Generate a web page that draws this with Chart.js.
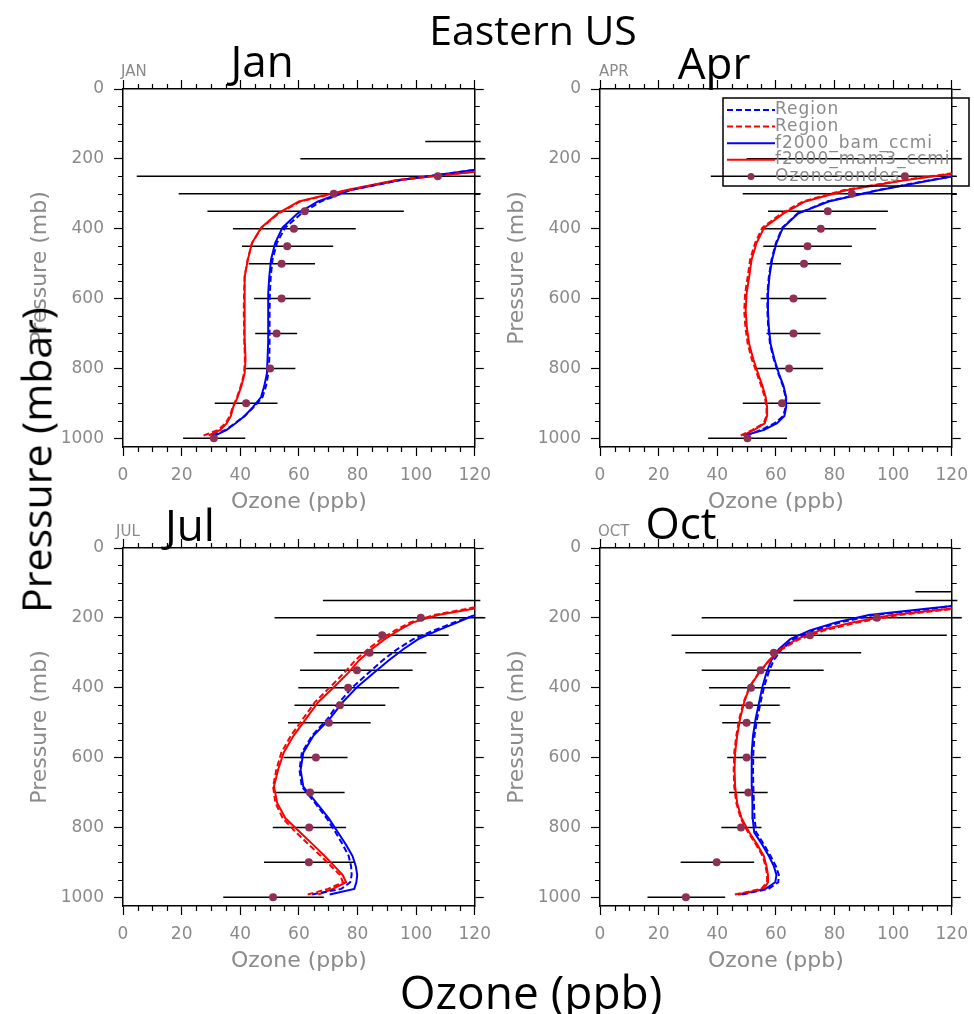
<!DOCTYPE html>
<html>
<head>
<meta charset="utf-8">
<title>Eastern US ozone profiles</title>
<script src="https://cdn.jsdelivr.net/npm/chart.js@4.4.1/dist/chart.umd.min.js"></script>
<style>
  html, body { margin: 0; padding: 0; background: #fff; }
  body { position: relative; width: 974px; height: 1014px; overflow: hidden; }
  canvas { position: absolute; }
  .big { position: absolute; font-family: 'Open Sans', sans-serif; color: #000; line-height: 1;
         white-space: nowrap; transform: translate(-50%, -50%); z-index: 2; }
  .tag { position: absolute; font-family: 'DejaVu Sans', sans-serif; font-size: 15px; color: #8a8a8a;
         line-height: 1; z-index: 2; }
</style>
</head>
<body>
<canvas id="jan" width="500" height="493" style="left:0;top:29px"></canvas>
<canvas id="apr" width="500" height="493" style="left:477px;top:29px"></canvas>
<canvas id="jul" width="500" height="493" style="left:0;top:488px"></canvas>
<canvas id="oct" width="500" height="493" style="left:477px;top:488px"></canvas>

<div class="tag" style="left:121px;top:64px">JAN</div>
<div class="tag" style="left:599px;top:64px">APR</div>
<div class="tag" style="left:116px;top:524px">JUL</div>
<div class="tag" style="left:598px;top:524px">OCT</div>

<div class="big" style="left:533px;top:29px;font-size:41px">Eastern US</div>
<div class="big" style="left:262px;top:60px;font-size:44px">Jan</div>
<div class="big" style="left:714px;top:62px;font-size:44px">Apr</div>
<div class="big" style="left:190px;top:524px;font-size:44px">Jul</div>
<div class="big" style="left:681px;top:522px;font-size:44px">Oct</div>
<div class="big" style="left:531px;top:991px;font-size:46px">Ozone (ppb)</div>
<div class="big" style="left:36px;top:460px;font-size:41px;transform:translate(-50%,-50%) rotate(-90deg)">Pressure (mbar)</div>

<script>
// model levels (mb), shared by every model profile
const LEVELS = [992, 976, 957, 936, 911, 882, 850, 814, 774, 730, 683, 635, 586, 537, 489, 441, 397, 357, 322, 290, 261, 236, 213, 192, 173, 155];

// ---- January
const JAN_REGION_BAM  = [30.5, 35.0, 38.2, 41.5, 44.6, 47.6, 48.8, 49.6, 49.9, 50.0, 50.0, 50.0, 50.1, 50.4, 51.0, 52.5, 55.3, 60.8, 67.5, 77.5, 94.5, 116, 135, 150, 160, 170];
const JAN_REGION_MAM3 = [27.5, 32.5, 35.0, 36.5, 37.4, 38.9, 40.2, 41.3, 41.6, 41.4, 41.3, 41.2, 41.3, 41.5, 42.5, 44.0, 47.3, 53.0, 60.5, 76.5, 93.5, 121, 140, 155, 165, 175];
const JAN_BAM         = [31.5, 35.4, 38.4, 41.5, 44.3, 47.1, 48.2, 49.1, 49.3, 49.5, 49.5, 49.5, 49.6, 49.9, 50.5, 51.9, 54.4, 59.4, 66.5, 77.0, 94.0, 116, 135, 150, 160, 170];
const JAN_MAM3        = [29.2, 33.2, 35.4, 36.8, 37.6, 39.1, 40.4, 41.5, 41.8, 41.6, 41.5, 41.4, 41.5, 41.6, 42.6, 44.0, 47.1, 52.7, 60.0, 76.0, 93.0, 121, 140, 155, 165, 175];
const JAN_SONDE_P    = [1000, 900, 800, 700, 600, 500, 450, 400, 350, 300, 250, 200, 150];
const JAN_SONDE_MEAN = [31.0, 42.0, 50.2, 52.4, 54.1, 54.1, 56.0, 58.3, 62.0, 71.9, 107.4, null, null];
const JAN_SONDE_LO   = [20.5, 31.3, 42.0, 45.1, 44.7, 42.9, 40.6, 37.5, 28.8, 19.0, 4.7, 60.5, 103.1];
const JAN_SONDE_HI   = [41.7, 52.7, 58.8, 59.4, 64.0, 65.5, 71.7, 79.4, 95.8, 122, 122, 123.6, 122];

// ---- April
const APR_REGION_BAM  = [49.8, 55.0, 59.6, 62.5, 63.3, 63.3, 62.4, 60.8, 59.3, 58.0, 57.4, 57.1, 57.1, 57.6, 58.5, 60.0, 62.2, 67.3, 77.5, 94.5, 112.5, 130, 145, 155, 165, 175];
const APR_REGION_MAM3 = [48.0, 52.0, 55.8, 56.8, 56.8, 56.2, 55.0, 53.5, 51.8, 50.4, 49.6, 49.2, 49.5, 50.4, 51.2, 52.9, 55.4, 61.8, 69.2, 83.0, 103, 125, 140, 150, 160, 170];
const APR_BAM         = [49.2, 56.0, 60.4, 62.9, 63.5, 63.5, 62.6, 61.0, 59.5, 58.2, 57.6, 57.3, 57.3, 57.8, 58.7, 60.2, 62.4, 67.5, 78.0, 95.0, 113, 130, 145, 155, 165, 175];
const APR_MAM3        = [48.7, 52.6, 56.2, 57.0, 57.0, 56.5, 55.4, 53.9, 52.3, 50.9, 50.1, 49.7, 50.0, 50.9, 51.7, 53.4, 56.0, 62.5, 70.0, 84.0, 104, 126, 140, 150, 160, 170];
const APR_SONDE_P    = [1000, 900, 800, 700, 600, 500, 450, 400, 350, 300, 250, 200];
const APR_SONDE_MEAN = [50.3, 62.1, 64.5, 66.0, 66.0, 69.6, 70.8, 75.3, 77.7, 85.9, 104.0, null];
const APR_SONDE_LO   = [36.9, 48.7, 53.4, 56.8, 54.8, 56.8, 55.7, 55.9, 57.3, 48.7, 37.8, 50.0];
const APR_SONDE_HI   = [63.8, 75.2, 76.1, 75.2, 77.2, 82.2, 85.9, 94.2, 98.2, 121.7, 121.7, 123.4];

// ---- July
const JUL_REGION_BAM  = [64.5, 74.5, 77.5, 78.0, 77.8, 77.0, 75.0, 72.5, 69.5, 65.5, 61.0, 60.2, 61.0, 64.5, 69.8, 73.8, 78.5, 83.8, 88.5, 93.5, 99.0, 106, 113, 120, 126, 132];
const JUL_REGION_MAM3 = [63.0, 70.0, 75.0, 74.0, 71.0, 67.5, 63.5, 59.0, 54.5, 52.0, 51.2, 52.3, 54.0, 57.3, 61.4, 65.5, 70.8, 75.5, 79.2, 83.5, 88.0, 92.8, 98.0, 106, 118, 130];
const JUL_BAM         = [70.5, 78.9, 79.6, 79.9, 79.4, 78.3, 76.1, 73.3, 70.2, 66.0, 61.5, 60.6, 61.5, 65.0, 70.5, 75.0, 80.0, 85.6, 90.6, 95.6, 100.7, 107.4, 114.1, 120, 126, 132];
const JUL_MAM3        = [66.6, 71.6, 76.1, 74.9, 72.1, 68.8, 64.9, 60.4, 55.4, 52.6, 51.5, 52.9, 54.8, 58.2, 62.4, 66.6, 72.1, 76.9, 80.5, 84.8, 89.3, 94.0, 99.0, 107.4, 120, 132];
const JUL_SONDE_P    = [1000, 900, 800, 700, 600, 500, 450, 400, 350, 300, 250, 200, 150];
const JUL_SONDE_MEAN = [51.2, 63.4, 63.5, 63.8, 65.8, 70.2, 74.0, 76.8, 79.8, 84.1, 88.4, 101.6, null];
const JUL_SONDE_LO   = [34.2, 48.1, 51.1, 52.2, 54.8, 56.3, 58.5, 59.8, 60.4, 65.1, 66.0, 51.7, 68.2];
const JUL_SONDE_HI   = [68.5, 79.2, 76.1, 75.6, 76.6, 84.5, 89.5, 94.2, 98.8, 103.5, 111.1, 123.6, 121.9];

// ---- October
const OCT_REGION_BAM  = [48.5, 57.5, 60.8, 61.0, 60.0, 58.2, 56.0, 53.3, 52.7, 52.5, 52.3, 52.2, 52.3, 52.7, 53.6, 54.8, 56.0, 57.5, 59.2, 62.0, 66.0, 73.0, 82.0, 93.5, 114, 128];
const OCT_REGION_MAM3 = [46.0, 55.0, 57.0, 57.0, 56.5, 55.5, 53.3, 50.5, 48.0, 46.5, 45.8, 45.6, 45.8, 46.5, 47.5, 49.0, 51.0, 54.2, 57.8, 62.0, 68.0, 76.5, 88.0, 102, 122, 140];
const OCT_BAM         = [47.5, 56.5, 59.8, 60.2, 59.3, 57.6, 55.4, 52.6, 52.1, 52.0, 51.8, 51.7, 51.8, 52.2, 53.1, 54.3, 55.4, 56.8, 58.4, 61.0, 64.9, 71.6, 80.5, 91.7, 112, 132];
const OCT_MAM3        = [47.0, 55.9, 57.3, 57.3, 56.8, 55.9, 53.7, 50.9, 48.3, 46.8, 46.1, 45.9, 46.1, 46.8, 47.8, 49.2, 51.1, 54.3, 57.6, 61.5, 67.1, 75.0, 86.0, 99.6, 120, 140];
const OCT_SONDE_P    = [1000, 900, 800, 700, 600, 500, 450, 400, 350, 300, 250, 200, 150, 125];
const OCT_SONDE_MEAN = [29.3, 39.8, 48.1, 50.6, 50.0, 50.0, 50.9, 51.5, 54.8, 59.3, 71.6, 94.5, null, null];
const OCT_SONDE_LO   = [16.2, 27.5, 41.4, 44.0, 43.4, 41.7, 40.8, 37.2, 34.7, 29.1, 24.4, 34.7, 66.0, 107.6];
const OCT_SONDE_HI   = [42.7, 52.6, 55.1, 57.2, 56.7, 58.2, 61.3, 64.9, 76.3, 89.1, 118.3, 123.4, 121.9, 120.0];

// axes
const X_MIN = 0, X_MAX = 120, X_STEP = 20, X_MINOR = 5;
const P_MIN = 0, P_MAX = 1025, P_MINOR = 50;
const P_TICKS = [0, 200, 400, 600, 800, 1000];

const GRAY = '#8a8a8a';
const BLUE = '#0000ff';
const RED = '#ff0000';
const SONDE = '#8e2f55';

Chart.defaults.font.family = "'DejaVu Sans', sans-serif";

function profile(values) {
    return values.map((v, i) => ({ x: v, y: LEVELS[i] }));
}

function sondeDots(p, mean) {
    return p.map((lev, i) => ({ x: mean[i], y: lev })).filter(pt => pt.x !== null);
}

// one line with gaps: lo -> hi at each level, then a break
function sondeBars(p, lo, hi) {
    const out = [];
    p.forEach((lev, i) => {
        out.push({ x: lo[i], y: lev }, { x: hi[i], y: lev }, { x: null, y: null });
    });
    return out;
}

const fixedPressureTicks = s => { s.ticks = P_TICKS.map(v => ({ value: v })); };

// minor ticks on all four sides of the frame
const minorTicks = {
    id: 'minorTicks',
    afterDraw(chart) {
        const { ctx, chartArea: a, scales } = chart;
        const x = scales.x, y = scales.y;
        const majorY = P_TICKS[1] - P_TICKS[0];
        const lastY = P_TICKS[P_TICKS.length - 1];
        ctx.save();
        ctx.strokeStyle = '#000';
        ctx.lineWidth = 1.2;
        ctx.beginPath();
        for (let v = X_MIN; v <= X_MAX; v += X_MINOR) {
            if (v % X_STEP === 0) continue;
            const px = Math.round(x.getPixelForValue(v)) + 0.5;
            ctx.moveTo(px, a.bottom); ctx.lineTo(px, a.bottom + 5);
            ctx.moveTo(px, a.top); ctx.lineTo(px, a.top - 5);
        }
        for (let v = P_MIN; v <= lastY; v += P_MINOR) {
            if (v % majorY === 0) continue;
            const py = Math.round(y.getPixelForValue(v)) + 0.5;
            ctx.moveTo(a.left, py); ctx.lineTo(a.left - 5, py);
            ctx.moveTo(a.right, py); ctx.lineTo(a.right + 5, py);
        }
        ctx.stroke();
        ctx.restore();
    }
};

// boxed legend, like the one inside the April panel
const boxLegend = {
    id: 'boxLegend',
    afterDatasetsDraw(chart) {
        const { ctx, chartArea: a } = chart;
        const left = a.left + 123, top = a.top + 9, w = 246, h = 88;
        ctx.save();
        ctx.strokeStyle = '#000';
        ctx.lineWidth = 1.5;
        ctx.setLineDash([]);
        ctx.strokeRect(left, top, w, h);
        ctx.font = "17px 'DejaVu Sans'";
        ctx.fillStyle = GRAY;
        ctx.textBaseline = 'middle';
        if ('letterSpacing' in ctx) ctx.letterSpacing = '1px';
        chart.data.datasets.filter(d => d.inLegend).forEach((d, i) => {
            const ry = top + 12 + i * 16.6;
            if (d.showLine) {
                ctx.strokeStyle = d.borderColor;
                ctx.lineWidth = d.borderWidth;
                ctx.setLineDash(d.borderDash || []);
                ctx.beginPath();
                ctx.moveTo(left + 4, ry);
                ctx.lineTo(left + 52, ry);
                ctx.stroke();
            } else {
                ctx.fillStyle = d.pointBackgroundColor;
                ctx.beginPath();
                ctx.arc(left + 28, ry, 3.5, 0, Math.PI * 2);
                ctx.fill();
                ctx.fillStyle = GRAY;
            }
            ctx.fillText(d.label, left + 52, ry);
        });
        ctx.restore();
    }
};

function makePanel(id, regionBam, regionMam3, bam, mam3, sp, smean, slo, shi, withLegend) {
    const grid = { drawOnChartArea: false, drawTicks: true, tickLength: 9, tickColor: '#000', tickWidth: 1.2 };
    const border = { display: true, color: '#000', width: 1.5 };
    const tickFont = { family: "'DejaVu Sans'", size: 17 };
    const titleFont = { family: "'DejaVu Sans'", size: 22 };
    const modelLine = (label, data, color, dashed, order) => ({
        label, data, showLine: true, inLegend: true,
        borderColor: color, borderWidth: 2, borderDash: dashed ? [6, 3] : [],
        pointRadius: 0, pointHoverRadius: 0, order
    });

    new Chart(document.getElementById(id), {
        type: 'scatter',
        data: {
            datasets: [
                modelLine('Region', profile(regionBam), BLUE, true, 2),
                modelLine('Region', profile(regionMam3), RED, true, 1),
                modelLine('f2000_bam_ccmi', profile(bam), BLUE, false, 4),
                modelLine('f2000_mam3_ccmi', profile(mam3), RED, false, 3),
                {
                    label: 'Ozonesondes', data: sondeDots(sp, smean), inLegend: true, showLine: false,
                    pointRadius: 4, pointBackgroundColor: SONDE, pointBorderWidth: 0, order: 0
                },
                {
                    label: 'Ozonesonde spread', data: sondeBars(sp, slo, shi), inLegend: false, showLine: true,
                    borderColor: '#000', borderWidth: 1.5, pointRadius: 0, pointHoverRadius: 0,
                    spanGaps: false, clip: false, order: 5
                }
            ]
        },
        options: {
            responsive: false,
            animation: false,
            events: [],
            layout: { padding: 0 },
            plugins: { legend: { display: false }, tooltip: { enabled: false } },
            scales: {
                x: {
                    type: 'linear', position: 'bottom', min: X_MIN, max: X_MAX,
                    ticks: { stepSize: X_STEP, color: GRAY, font: tickFont, padding: 9, maxRotation: 0 },
                    grid, border,
                    title: { display: true, text: 'Ozone (ppb)', color: GRAY, font: titleFont, padding: { top: 0, bottom: 7 } },
                    afterFit: s => { s.height = 75; }
                },
                x2: {
                    type: 'linear', position: 'top', min: X_MIN, max: X_MAX,
                    ticks: { display: false, stepSize: X_STEP },
                    grid, border,
                    afterFit: s => { s.height = 60; }
                },
                y: {
                    type: 'linear', position: 'left', reverse: true, min: P_MIN, max: P_MAX,
                    ticks: { color: GRAY, font: tickFont, padding: 10, callback: v => String(v) },
                    afterBuildTicks: fixedPressureTicks,
                    grid, border,
                    title: { display: true, text: 'Pressure (mb)', color: GRAY, font: titleFont, padding: { top: 27, bottom: 0 } },
                    afterFit: s => { s.width = 123; }
                },
                y2: {
                    type: 'linear', position: 'right', reverse: true, min: P_MIN, max: P_MAX,
                    ticks: { display: false },
                    afterBuildTicks: fixedPressureTicks,
                    grid, border,
                    afterFit: s => { s.width = 19; }
                }
            }
        },
        plugins: withLegend ? [minorTicks, boxLegend] : [minorTicks]
    });
}

makePanel('jan', JAN_REGION_BAM, JAN_REGION_MAM3, JAN_BAM, JAN_MAM3, JAN_SONDE_P, JAN_SONDE_MEAN, JAN_SONDE_LO, JAN_SONDE_HI, false);
makePanel('apr', APR_REGION_BAM, APR_REGION_MAM3, APR_BAM, APR_MAM3, APR_SONDE_P, APR_SONDE_MEAN, APR_SONDE_LO, APR_SONDE_HI, true);
makePanel('jul', JUL_REGION_BAM, JUL_REGION_MAM3, JUL_BAM, JUL_MAM3, JUL_SONDE_P, JUL_SONDE_MEAN, JUL_SONDE_LO, JUL_SONDE_HI, false);
makePanel('oct', OCT_REGION_BAM, OCT_REGION_MAM3, OCT_BAM, OCT_MAM3, OCT_SONDE_P, OCT_SONDE_MEAN, OCT_SONDE_LO, OCT_SONDE_HI, false);
</script>
</body>
</html>
